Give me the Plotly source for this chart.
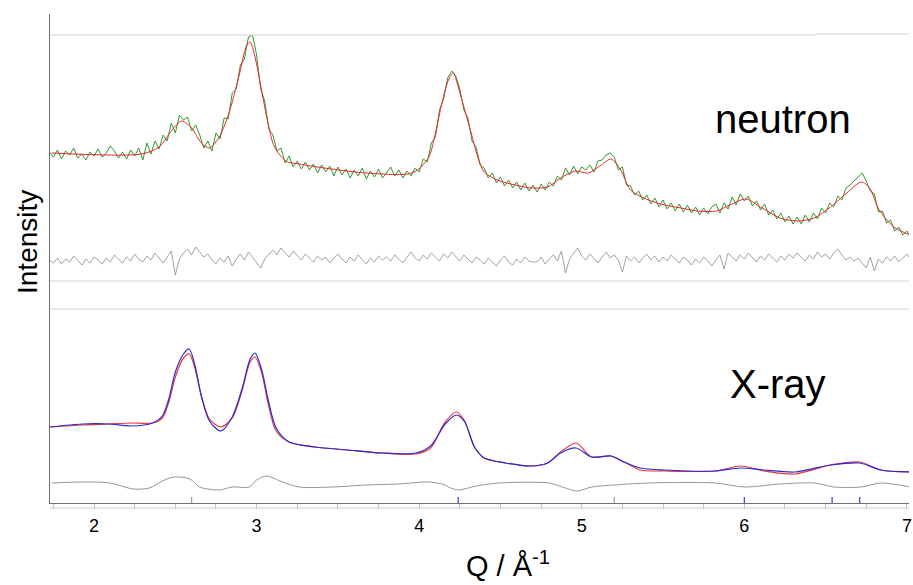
import plotly.graph_objects as go

# ---------------- data (intensity in arbitrary units) ----------------
# Neutron: observed (uniform Q step), fit, difference
Q_START, Q_STEP = 1.725, 0.025
NEUTRON_OBS = [
    351,346,353,344,352,348,355,345,349,343,
    351,347,354,346,350,357,352,345,351,344,
    353,347,355,343,360,349,362,354,368,362,
    380,370,388,383,386,372,378,368,355,362,
    352,370,364,385,384,410,414,438,444,466,
    468,448,414,402,374,368,352,355,340,347,
    336,342,334,341,333,339,330,338,331,337,
    327,336,328,334,325,333,327,335,324,332,
    326,334,325,331,336,327,333,325,332,327,
    335,331,344,341,360,366,393,404,425,432,
    427,414,393,385,362,356,338,335,325,330,
    320,326,317,323,315,321,313,320,312,318,
    311,319,313,321,317,327,323,335,328,337,
    329,336,333,338,331,342,343,348,350,346,
    333,336,318,317,308,312,303,308,299,305,
    296,303,294,300,292,299,291,298,290,296,
    288,295,289,296,299,290,300,294,306,298,
    309,302,307,297,302,293,299,288,293,284,
    290,281,287,279,286,279,288,281,290,284,
    295,290,300,296,307,303,315,318,322,326,
    330,322,312,309,291,292,280,283,272,276,
    268,272,266]
NEUTRON_DIFF = [
    243,240,245,239,244,241,247,242,238,244,240,246,243,239,245,241,248,244,240,246,
    242,249,244,241,247,243,250,245,240,246,252,228,244,250,254,248,256,251,246,249,
    243,239,245,241,247,237,244,249,243,251,246,240,235,244,249,253,248,255,250,246,
    252,247,243,249,245,241,247,243,246,240,245,249,244,240,246,242,248,243,239,245,
    241,247,243,246,242,248,244,240,246,251,245,242,248,244,250,246,242,249,245,251,
    246,242,248,244,240,246,243,239,245,241,237,243,247,241,238,244,240,246,242,241,
    241,246,239,244,248,242,252,230,244,250,255,247,243,249,244,240,246,251,245,248,
    243,231,247,242,246,240,245,249,243,247,241,246,242,248,244,240,246,243,238,244,
    240,246,242,237,243,248,234,250,246,242,248,244,250,245,241,247,243,249,245,241,
    247,243,249,245,250,246,242,248,244,251,246,249,244,250,254,248,243,246,242,245,
    240,235,246,232,244,240,246,242,247,241,245,249,243]
NEUTRON_FIT_Q = [1.74,2.29,2.40,2.48,2.54,2.60,2.66,2.71,2.77,2.83,2.89,2.94,2.96,2.99,
                 3.03,3.07,3.11,3.18,3.26,3.46,3.67,3.93,3.99,4.06,4.10,4.14,4.18,4.21,
                 4.24,4.28,4.32,4.36,4.40,4.48,4.59,4.69,4.79,4.87,4.96,5.04,5.12,5.18,
                 5.24,5.30,5.41,5.51,5.61,5.71,5.83,5.91,6.01,6.10,6.22,6.33,6.43,6.53,
                 6.63,6.72,6.77,6.83,6.92,7.02]
NEUTRON_FIT = [350,349,356,373,382,375,360,355,366,390,426,458,461,446,
               413,380,356,342,339,334,330,329,333,346,370,400,423,430,
               416,393,370,346,331,323,318,315,316,325,332,330,338,344,
               333,313,303,298,295,292,292,298,304,296,285,282,285,296,
               310,321,315,293,276,268]

# X-ray: observed (blue) and calculated (red)
XRAY_Q = [1.73,1.93,2.09,2.23,2.36,2.42,2.46,2.50,2.55,2.585,2.62,2.66,2.71,2.78,2.85,
          2.91,2.96,2.99,3.03,3.07,3.12,3.20,3.36,3.56,3.77,3.98,4.07,4.16,4.23,4.28,
          4.34,4.40,4.53,4.69,4.79,4.87,4.965,5.06,5.18,5.26,5.36,5.51,5.82,5.98,6.12,
          6.31,6.53,6.71,6.84,7.02]
XRAY_OBS = [76,79,79,77,80,87,104,131,149,154,138,107,82,72,86,
            114,144,150,134,104,75,61,56,53,50,50,57,79,88,81,
            56,45,40,37,40,50,55,46,47,41,35,33,32,35,33,
            31,38,40,33,31]
XRAY_CALC = [76,78,79,80,80,85,101,126,145,149,135,107,84,76,85,
             112,141,146,131,100,72,61,56,53,50,49,55,81,91,82,
             56,45,40,37,40,51,60,46,47,41,33,32,32,37,32,
             29,38,41,33,31]
XRAY_DIFF_Q = [1.74,1.93,2.10,2.24,2.34,2.42,2.49,2.59,2.65,2.77,2.85,2.955,3.00,3.06,
               3.16,3.26,3.47,3.67,3.87,4.06,4.16,4.18,4.24,4.35,4.49,4.80,4.88,4.97,
               5.06,5.20,5.41,5.82,6.00,6.22,6.43,6.55,6.72,6.84,7.02]
XRAY_DIFF = [20,21,20,14,15,22,26,24,16,13,16,16,23,27,
             21,16,16,18,19,21,18,16,13,17,20,20,16,12,
             16,18,20,20,16,19,20,16,16,20,16]

# Reflection tick marks
BRAGG_BLUE = [4.24, 6.00, 6.54, 6.71]
BRAGG_GRAY = [2.60, 5.20]

# Axis ticks
MAJOR_TICKS = [2, 3, 4, 5, 6, 7]
MAJOR_LABELS = ["2", "3", "4", "5", "6", "7"]

NEUTRON_Q = [round(Q_START + Q_STEP * i, 4) for i in range(len(NEUTRON_OBS))]

FONT = "Liberation Sans, Arial, sans-serif"

fig = go.Figure()
fig.add_trace(go.Scatter(x=NEUTRON_Q, y=NEUTRON_OBS, mode="lines",
                         line=dict(color="#2f9a2f", width=1), hoverinfo="skip"))
fig.add_trace(go.Scatter(x=NEUTRON_FIT_Q, y=NEUTRON_FIT, mode="lines",
                         line=dict(color="#e8282a", width=1, shape="spline", smoothing=0.8),
                         hoverinfo="skip"))
fig.add_trace(go.Scatter(x=NEUTRON_Q, y=NEUTRON_DIFF, mode="lines",
                         line=dict(color="#8a8a8a", width=0.8), hoverinfo="skip"))
fig.add_trace(go.Scatter(x=XRAY_Q, y=XRAY_CALC, mode="lines",
                         line=dict(color="#e83a3a", width=1.2, shape="spline", smoothing=0.8),
                         hoverinfo="skip"))
fig.add_trace(go.Scatter(x=XRAY_Q, y=XRAY_OBS, mode="lines",
                         line=dict(color="#2a2ad0", width=1.2, shape="spline", smoothing=0.8),
                         hoverinfo="skip"))
fig.add_trace(go.Scatter(x=XRAY_DIFF_Q, y=XRAY_DIFF, mode="lines",
                         line=dict(color="#8a8a8a", width=0.9, shape="spline", smoothing=0.8),
                         hoverinfo="skip"))

shapes = []
# horizontal separator lines
for y0, x0, x1 in [(468, 0.0, 0.891), (469, 0.891, 1.0), (222, 0.0, 1.0), (194, 0.0, 1.0)]:
    shapes.append(dict(type="line", xref="paper", yref="y", x0=x0, x1=x1, y0=y0, y1=y0,
                       line=dict(color="#d4d4d4", width=1.2)))
# light line below the axis
shapes.append(dict(type="line", xref="paper", yref="paper", x0=0, x1=1,
                   y0=-5 / 489, y1=-5 / 489, line=dict(color="#d0d0d0", width=1.2)))
for q in BRAGG_BLUE:
    shapes.append(dict(type="line", xref="x", yref="y", x0=q, x1=q, y0=0, y1=6,
                       line=dict(color="#3a3ac8", width=1.2)))
for q in BRAGG_GRAY:
    shapes.append(dict(type="line", xref="x", yref="y", x0=q, x1=q, y0=0, y1=6,
                       line=dict(color="#a0a0a0", width=1.2)))

annotations = [
    dict(text="neutron", x=6.236, y=384, xref="x", yref="y", showarrow=False,
         font=dict(family=FONT, size=40, color="black"), xanchor="center", yanchor="middle"),
    dict(text="X-ray", x=6.21, y=119, xref="x", yref="y", showarrow=False,
         font=dict(family=FONT, size=40, color="black"), xanchor="center", yanchor="middle"),
    dict(text="Intensity", x=0, xshift=-23, y=261, xref="paper", yref="y", showarrow=False,
         textangle=-90, font=dict(family=FONT, size=28, color="black"),
         xanchor="center", yanchor="middle"),
    dict(text="Q / Å<sup>-1</sup>", x=4.549, y=-61 / 489, xref="x", yref="paper",
         showarrow=False, font=dict(family=FONT, size=29, color="black"),
         xanchor="center", yanchor="middle"),
]

fig.update_layout(
    width=913, height=585,
    margin=dict(l=50, r=1, t=14, b=82),
    paper_bgcolor="white", plot_bgcolor="white",
    showlegend=False,
    shapes=shapes,
    annotations=annotations,
    xaxis=dict(range=[1.729, 7.013], showline=True, linecolor="#707070", linewidth=1.2,
               showgrid=False, zeroline=False,
               tickmode="array", tickvals=MAJOR_TICKS, ticktext=MAJOR_LABELS,
               ticks="outside", ticklen=5, tickcolor="#c0c0c0", tickwidth=1,
               minor=dict(dtick=0.25, tick0=0, ticks="outside", ticklen=5,
                          tickcolor="#c0c0c0", showgrid=False),
               tickfont=dict(family=FONT, size=18, color="black"),
               ticklabelstandoff=1, ticklabeloverflow="allow"),
    yaxis=dict(range=[0, 489], showline=True, linecolor="#707070", linewidth=1.2,
               showgrid=False, zeroline=False, showticklabels=False, ticks=""),
)

fig.write_html(
    "out.html",
    config={"displayModeBar": False},
    post_script="document.body.style.margin='0';document.body.style.padding='0';"
                "document.body.style.overflow='hidden';",
)
